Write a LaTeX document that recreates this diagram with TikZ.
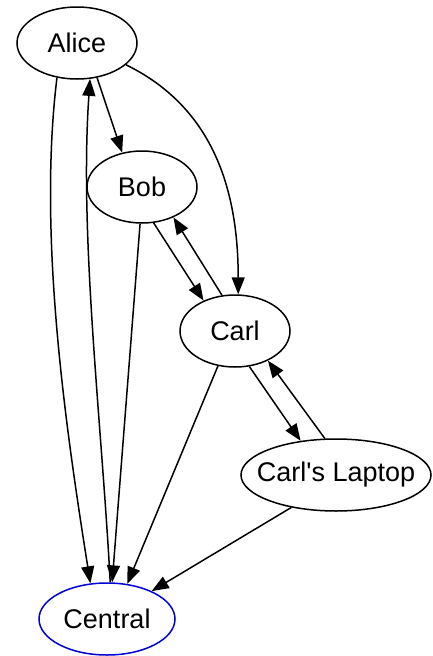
\documentclass[tikz,border=0pt]{standalone}
\usepackage{fontspec}
\setmainfont{Liberation Sans}
\usetikzlibrary{shapes,positioning,arrows.meta}

\begin{document}
\begin{tikzpicture}[x=1pt, y=1pt, font=\fontsize{27}{32}\selectfont,
  person/.style={draw, ellipse, line width=1.5pt, inner xsep=-20pt, inner ysep=0pt, minimum height=72pt},
  edge/.style={-{Triangle[length=17pt, width=13pt]}, line width=1.5pt}]
\useasboundingbox (0, 0) rectangle (433, -656);
\node[person, minimum width=120pt] (alice) at (77, -43) {Alice};
\node[person, minimum width=110pt] (bob) at (142, -187) {Bob};
\node[person, minimum width=110pt] (carl) at (235, -331) {Carl};
\node[person, minimum width=190pt] (laptop) at (336, -475) {Carl\textquotesingle s Laptop};
\node[person, draw=blue!85!black, minimum width=136pt] (central) at (107, -619) {Central};
% edges
\draw[edge] (alice.-60) -- (bob.120);
\draw[edge] (alice.-24) to[out=-26, in=90] (carl.85);
\draw[edge] (alice.-120) to[out=-97, in=99, looseness=0.8] (central.115);
\draw[edge] (central.85) to[out=93, in=-94, looseness=0.8] (alice.-70);
\draw[edge] (bob.-93) -- (central.82);
\draw[edge] (bob.-72) -- (carl.136);
\draw[edge] (carl.110) -- (bob.-44);
\draw[edge] (carl.-116) -- (central.60);
\draw[edge] (carl.-68) -- (laptop.136);
\draw[edge] (laptop.107) -- (carl.-42);
\draw[edge] (laptop.-144) -- (central.32);
\end{tikzpicture}
\end{document}
